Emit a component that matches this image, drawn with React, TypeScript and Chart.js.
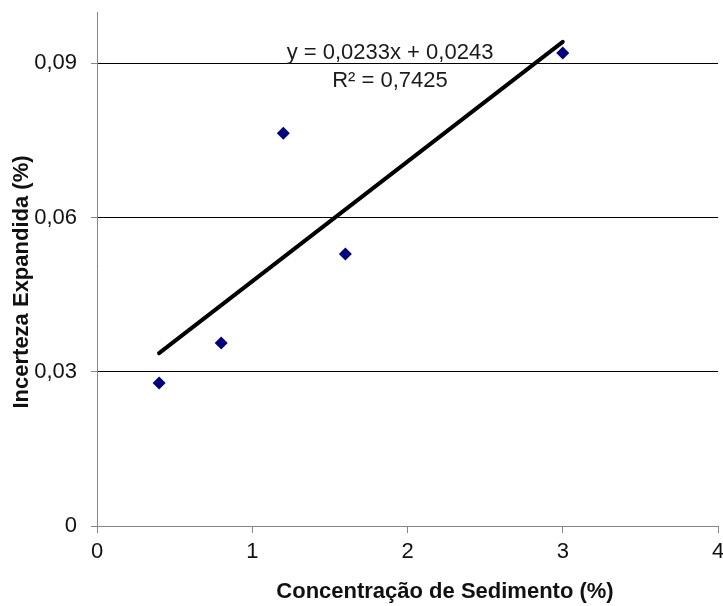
import { useEffect, useRef } from "react";
import { Chart, registerables } from "chart.js";

Chart.register(...registerables);

const xValues = [0.4, 0.8, 1.2, 1.6, 3.0];
const yValues = [0.0278, 0.0356, 0.0764, 0.0529, 0.092];
const trendSlope = 0.0233;
const trendIntercept = 0.0243;
const trendRange = [0.4, 3.0];
const xTicks = [0, 1, 2, 3, 4];
const yTicks = [0, 0.03, 0.06, 0.09];
const equationText = "y = 0,0233x + 0,0243";
const r2Text = "R² = 0,7425";
const xTitle = "Concentração de Sedimento (%)";
const yTitle = "Incerteza Expandida (%)";

const FONT = "'Liberation Sans', Arial, sans-serif";
const AXIS_GRAY = "#868686";

const fmt = (v: number) => (v === 0 ? "0" : v.toFixed(2).replace(".", ","));

const textPlugin = {
  id: "textPlugin",
  afterDraw(chart: any) {
    const { ctx, chartArea } = chart;
    ctx.save();
    // equation
    ctx.fillStyle = "#1a1a1a";
    ctx.font = `22px ${FONT}`;
    ctx.textAlign = "center";
    ctx.textBaseline = "middle";
    const ex = chartArea.left + 293;
    ctx.fillText(equationText, ex, chartArea.top + 41);
    ctx.fillText(r2Text, ex, chartArea.top + 69);
    // axis titles
    ctx.fillStyle = "#111";
    ctx.font = `bold 22px ${FONT}`;
    ctx.fillText(xTitle, chartArea.left + 348, chartArea.bottom + 66);
    ctx.translate(22, chartArea.top + 270);
    ctx.rotate(-Math.PI / 2);
    ctx.fillText(yTitle, 0, 0);
    ctx.restore();
  },
};

const clearPadding = (s: any) => {
  s.paddingTop = 0;
  s.paddingBottom = 0;
  s.paddingLeft = 0;
  s.paddingRight = 0;
};

export default function App() {
  const ref = useRef<HTMLCanvasElement | null>(null);
  useEffect(() => {
    if (!ref.current) return;
    const points = xValues.map((x, i) => ({ x, y: yValues[i] }));
    const trend = trendRange.map((x) => ({ x, y: trendSlope * x + trendIntercept }));
    const chart = new Chart(ref.current, {
      type: "scatter",
      data: {
        datasets: [
          {
            data: points,
            pointStyle: "rectRot",
            pointRadius: 6.5,
            backgroundColor: "#000080",
            borderColor: "#000080",
            borderWidth: 0,
            order: 1,
          },
          {
            type: "line",
            data: trend,
            borderColor: "#000000",
            borderWidth: 4,
            pointRadius: 0,
            borderCapStyle: "round",
            order: 2,
          } as any,
        ],
      },
      options: {
        animation: false,
        responsive: false,
        devicePixelRatio: 1,
        layout: { autoPadding: false, padding: { left: 0, right: 5, top: 12, bottom: 0 } },
        plugins: { legend: { display: false }, tooltip: { enabled: false } },
        scales: {
          x: {
            type: "linear",
            min: 0,
            max: 4,
            afterBuildTicks: (s: any) => {
              s.ticks = xTicks.map((v) => ({ value: v }));
            },
            afterFit: (s: any) => {
              s.height = 80;
              clearPadding(s);
            },
            grid: {
              drawOnChartArea: false,
              drawTicks: true,
              tickLength: 7,
              tickColor: AXIS_GRAY,
            },
            border: { color: AXIS_GRAY, width: 1 },
            ticks: {
              color: "#111",
              font: { family: FONT, size: 22 },
              padding: 6,
              callback: (v: any) => String(v),
            },
          },
          y: {
            type: "linear",
            min: 0,
            max: 0.1,
            afterBuildTicks: (s: any) => {
              s.ticks = yTicks.map((v) => ({ value: v }));
            },
            afterFit: (s: any) => {
              s.width = 97;
              clearPadding(s);
            },
            grid: {
              color: (c: any) => (c.tick && c.tick.value === 0 ? AXIS_GRAY : "#000000"),
              lineWidth: 1,
              drawTicks: true,
              tickLength: 6,
              tickColor: AXIS_GRAY,
            },
            border: { color: AXIS_GRAY, width: 1 },
            ticks: {
              color: "#111",
              font: { family: FONT, size: 22 },
              padding: 14,
              callback: (v: any) => fmt(Number(v)),
            },
          },
        },
      },
      plugins: [textPlugin],
    });
    return () => chart.destroy();
  }, []);
  return (
    <div style={{ position: "fixed", left: 0, top: 0, width: 723, height: 606, background: "#fff" }}>
      <canvas ref={ref} width={723} height={606} style={{ width: 723, height: 606 }} />
    </div>
  );
}
